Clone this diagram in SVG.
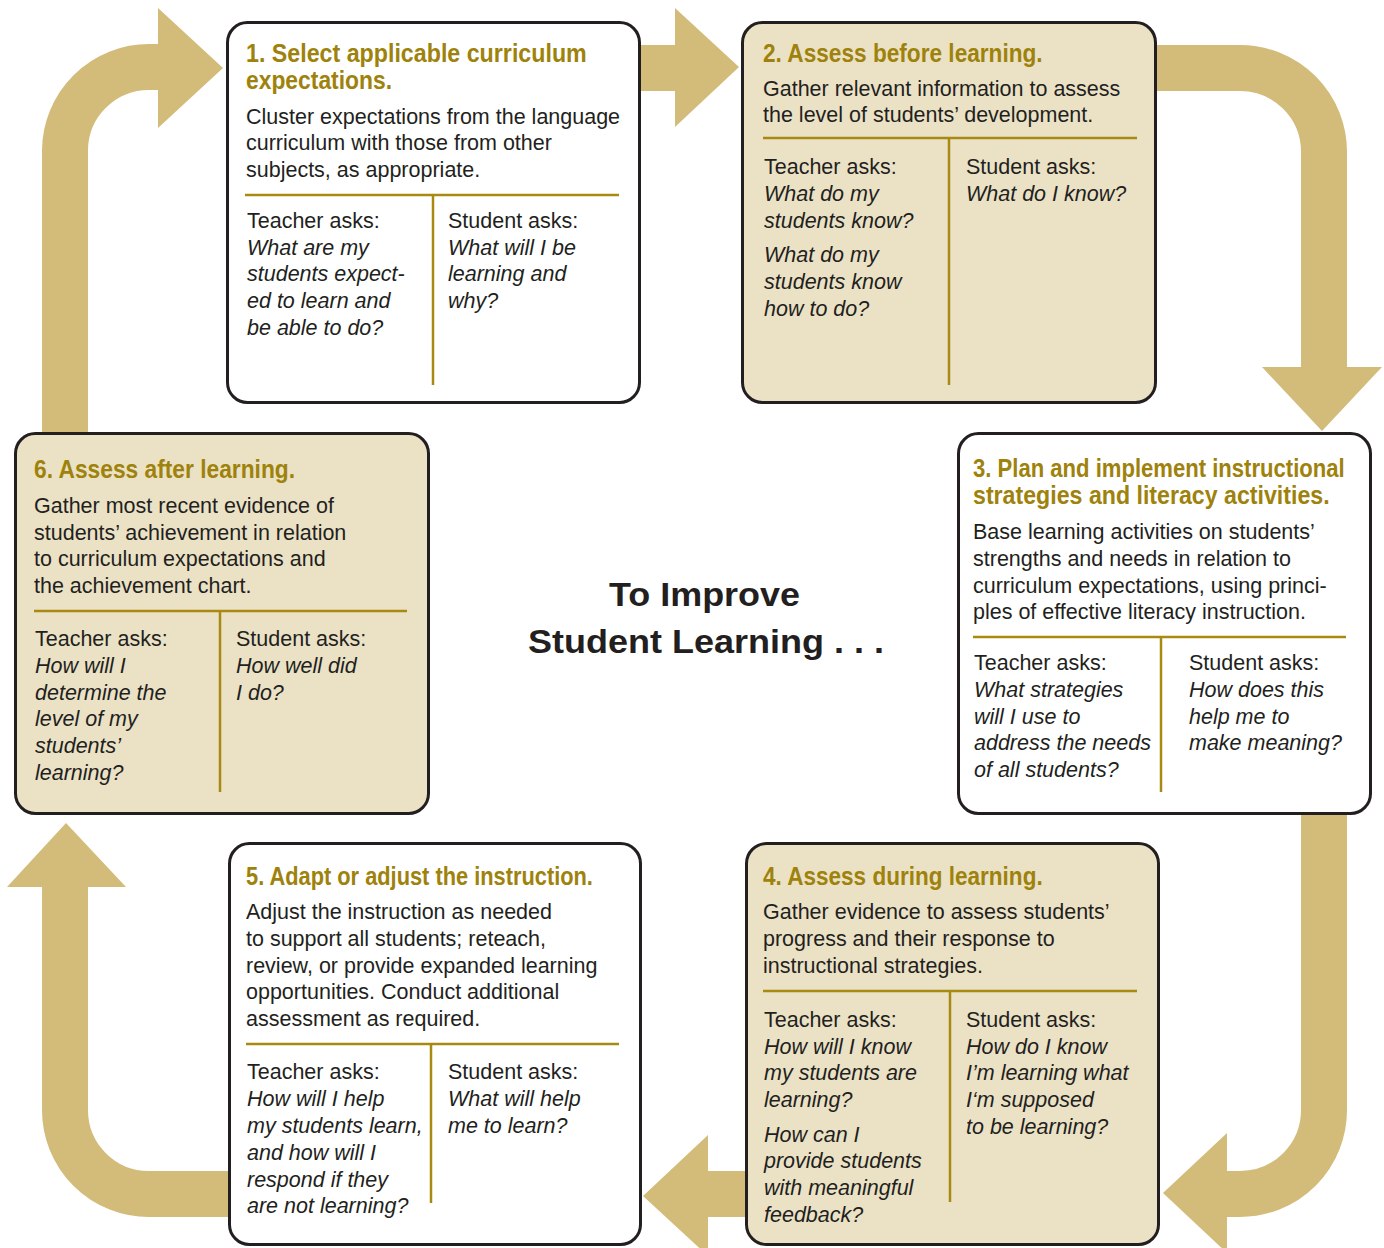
<svg xmlns="http://www.w3.org/2000/svg" width="1384" height="1248" viewBox="0 0 1384 1248">
  <style>
    .box { stroke: #231f20; stroke-width: 3; }
    .white { fill: #ffffff; }
    .tan { fill: #ebe2c6; }
    .rule { stroke: #a88a12; stroke-width: 2.5; fill: none; }
    .title { font-family: "Liberation Sans", Arial, sans-serif; font-weight: bold; font-size: 26px; fill: #9e820c; }
    .body { font-family: "Liberation Sans", Arial, sans-serif; font-size: 21.5px; fill: #231f20; }
    .ask { font-style: italic; }
    .center { font-family: "Liberation Sans", Arial, sans-serif; font-weight: bold; font-size: 33px; fill: #231f20; text-anchor: middle; }
    .band { fill: none; stroke: #d3bc79; stroke-width: 46; }
    .head { fill: #d3bc79; }
  </style>

  <!-- Cycle arrows, drawn beneath the boxes -->
  <g id="connectors">
    <!-- 6 to 1 -->
    <path class="band" d="M 65 440 V 150 A 84 84 0 0 1 149 67 H 162"/>
    <polygon class="head" points="158,8 223,68 158,128"/>
    <!-- 1 to 2 -->
    <path class="band" d="M 638 68 H 678"/>
    <polygon class="head" points="675,8 739,67 675,127"/>
    <!-- 2 to 3 -->
    <path class="band" d="M 1154 68 H 1240 A 84 84 0 0 1 1324 152 V 370"/>
    <polygon class="head" points="1262,367 1382,367 1322,431"/>
    <!-- 3 to 4 -->
    <path class="band" d="M 1324 812 V 1110 A 84 84 0 0 1 1240 1194 H 1224"/>
    <polygon class="head" points="1227,1133 1163,1193 1227,1253"/>
    <!-- 4 to 5 -->
    <path class="band" d="M 748 1194 H 705"/>
    <polygon class="head" points="708,1135 643,1196 708,1256"/>
    <!-- 5 to 6 -->
    <path class="band" d="M 231 1194 H 149 A 84 84 0 0 1 65 1110 V 884"/>
    <polygon class="head" points="7,887 126,887 66,823"/>
  </g>

  <!-- Step 1 -->
  <g id="step1">
    <rect class="box white" x="227.5" y="22.5" width="412" height="380" rx="20"/>
    <text class="title" transform="translate(246 62) scale(0.885 1)" textLength="385" lengthAdjust="spacingAndGlyphs">1. Select applicable curriculum</text>
    <text class="title" transform="translate(246 89) scale(0.885 1)" textLength="165" lengthAdjust="spacingAndGlyphs">expectations.</text>
    <text class="body" x="246" y="124">Cluster expectations from the language</text>
    <text class="body" x="246" y="150">curriculum with those from other</text>
    <text class="body" x="246" y="177">subjects, as appropriate.</text>
    <path class="rule" d="M 245 195 H 619 M 433 195 V 385"/>
    <text class="body" x="247" y="228">Teacher asks:</text>
    <text class="body ask" x="247" y="255">What are my</text>
    <text class="body ask" x="247" y="281">students expect-</text>
    <text class="body ask" x="247" y="308">ed to learn and</text>
    <text class="body ask" x="247" y="335">be able to do?</text>
    <text class="body" x="448" y="228">Student asks:</text>
    <text class="body ask" x="448" y="255">What will I be</text>
    <text class="body ask" x="448" y="281">learning and</text>
    <text class="body ask" x="448" y="308">why?</text>
  </g>

  <!-- Step 2 -->
  <g id="step2">
    <rect class="box tan" x="742.5" y="22.5" width="413" height="380" rx="20"/>
    <text class="title" transform="translate(763 62) scale(0.885 1)" textLength="316" lengthAdjust="spacingAndGlyphs">2. Assess before learning.</text>
    <text class="body" x="763" y="96">Gather relevant information to assess</text>
    <text class="body" x="763" y="122">the level of students’ development.</text>
    <path class="rule" d="M 763 138 H 1137 M 949 138 V 385"/>
    <text class="body" x="764" y="174">Teacher asks:</text>
    <text class="body ask" x="764" y="201">What do my</text>
    <text class="body ask" x="764" y="228">students know?</text>
    <text class="body ask" x="764" y="262">What do my</text>
    <text class="body ask" x="764" y="289">students know</text>
    <text class="body ask" x="764" y="316">how to do?</text>
    <text class="body" x="966" y="174">Student asks:</text>
    <text class="body ask" x="966" y="201">What do I know?</text>
  </g>

  <!-- Step 3 -->
  <g id="step3">
    <rect class="box white" x="958.5" y="433.5" width="412" height="380" rx="20"/>
    <text class="title" transform="translate(973 477) scale(0.885 1)" textLength="420" lengthAdjust="spacingAndGlyphs">3. Plan and implement instructional</text>
    <text class="title" transform="translate(973 504) scale(0.885 1)" textLength="403" lengthAdjust="spacingAndGlyphs">strategies and literacy activities.</text>
    <text class="body" x="973" y="539">Base learning activities on students’</text>
    <text class="body" x="973" y="566">strengths and needs in relation to</text>
    <text class="body" x="973" y="593">curriculum expectations, using princi-</text>
    <text class="body" x="973" y="619">ples of effective literacy instruction.</text>
    <path class="rule" d="M 973 637 H 1346 M 1161 637 V 792"/>
    <text class="body" x="974" y="670">Teacher asks:</text>
    <text class="body ask" x="974" y="697">What strategies</text>
    <text class="body ask" x="974" y="724">will I use to</text>
    <text class="body ask" x="974" y="750">address the needs</text>
    <text class="body ask" x="974" y="777">of all students?</text>
    <text class="body" x="1189" y="670">Student asks:</text>
    <text class="body ask" x="1189" y="697">How does this</text>
    <text class="body ask" x="1189" y="724">help me to</text>
    <text class="body ask" x="1189" y="750">make meaning?</text>
  </g>

  <!-- Step 4 -->
  <g id="step4">
    <rect class="box tan" x="746.5" y="843.5" width="412" height="401" rx="20"/>
    <text class="title" transform="translate(763 885) scale(0.885 1)" textLength="316" lengthAdjust="spacingAndGlyphs">4. Assess during learning.</text>
    <text class="body" x="763" y="919">Gather evidence to assess students’</text>
    <text class="body" x="763" y="946">progress and their response to</text>
    <text class="body" x="763" y="973">instructional strategies.</text>
    <path class="rule" d="M 763 991 H 1137 M 950 991 V 1202"/>
    <text class="body" x="764" y="1027">Teacher asks:</text>
    <text class="body ask" x="764" y="1054">How will I know</text>
    <text class="body ask" x="764" y="1080">my students are</text>
    <text class="body ask" x="764" y="1107">learning?</text>
    <text class="body ask" x="764" y="1142">How can I</text>
    <text class="body ask" x="764" y="1168">provide students</text>
    <text class="body ask" x="764" y="1195">with meaningful</text>
    <text class="body ask" x="764" y="1222">feedback?</text>
    <text class="body" x="966" y="1027">Student asks:</text>
    <text class="body ask" x="966" y="1054">How do I know</text>
    <text class="body ask" x="966" y="1080">I’m learning what</text>
    <text class="body ask" x="966" y="1107">I‘m supposed</text>
    <text class="body ask" x="966" y="1134">to be learning?</text>
  </g>

  <!-- Step 5 -->
  <g id="step5">
    <rect class="box white" x="229.5" y="843.5" width="411" height="401" rx="20"/>
    <text class="title" transform="translate(246 885) scale(0.885 1)" textLength="392" lengthAdjust="spacingAndGlyphs">5. Adapt or adjust the instruction.</text>
    <text class="body" x="246" y="919">Adjust the instruction as needed</text>
    <text class="body" x="246" y="946">to support all students; reteach,</text>
    <text class="body" x="246" y="973">review, or provide expanded learning</text>
    <text class="body" x="246" y="999">opportunities. Conduct additional</text>
    <text class="body" x="246" y="1026">assessment as required.</text>
    <path class="rule" d="M 246 1044 H 619 M 431 1044 V 1203"/>
    <text class="body" x="247" y="1079">Teacher asks:</text>
    <text class="body ask" x="247" y="1106">How will I help</text>
    <text class="body ask" x="247" y="1133">my students learn,</text>
    <text class="body ask" x="247" y="1160">and how will I</text>
    <text class="body ask" x="247" y="1187">respond if they</text>
    <text class="body ask" x="247" y="1213">are not learning?</text>
    <text class="body" x="448" y="1079">Student asks:</text>
    <text class="body ask" x="448" y="1106">What will help</text>
    <text class="body ask" x="448" y="1133">me to learn?</text>
  </g>

  <!-- Step 6 -->
  <g id="step6">
    <rect class="box tan" x="15.5" y="433.5" width="413" height="380" rx="20"/>
    <text class="title" transform="translate(34 478) scale(0.885 1)" textLength="295" lengthAdjust="spacingAndGlyphs">6. Assess after learning.</text>
    <text class="body" x="34" y="513">Gather most recent evidence of</text>
    <text class="body" x="34" y="540">students’ achievement in relation</text>
    <text class="body" x="34" y="566">to curriculum expectations and</text>
    <text class="body" x="34" y="593">the achievement chart.</text>
    <path class="rule" d="M 34 611 H 407 M 220 611 V 792"/>
    <text class="body" x="35" y="646">Teacher asks:</text>
    <text class="body ask" x="35" y="673">How will I</text>
    <text class="body ask" x="35" y="700">determine the</text>
    <text class="body ask" x="35" y="726">level of my</text>
    <text class="body ask" x="35" y="753">students’</text>
    <text class="body ask" x="35" y="780">learning?</text>
    <text class="body" x="236" y="646">Student asks:</text>
    <text class="body ask" x="236" y="673">How well did</text>
    <text class="body ask" x="236" y="700">I do?</text>
  </g>

  <!-- Central caption -->
  <g id="caption">
    <text class="center" x="704.5" y="606" textLength="191" lengthAdjust="spacingAndGlyphs">To Improve</text>
    <text class="center" x="706" y="653" textLength="356" lengthAdjust="spacingAndGlyphs">Student Learning . . .</text>
  </g>
</svg>
